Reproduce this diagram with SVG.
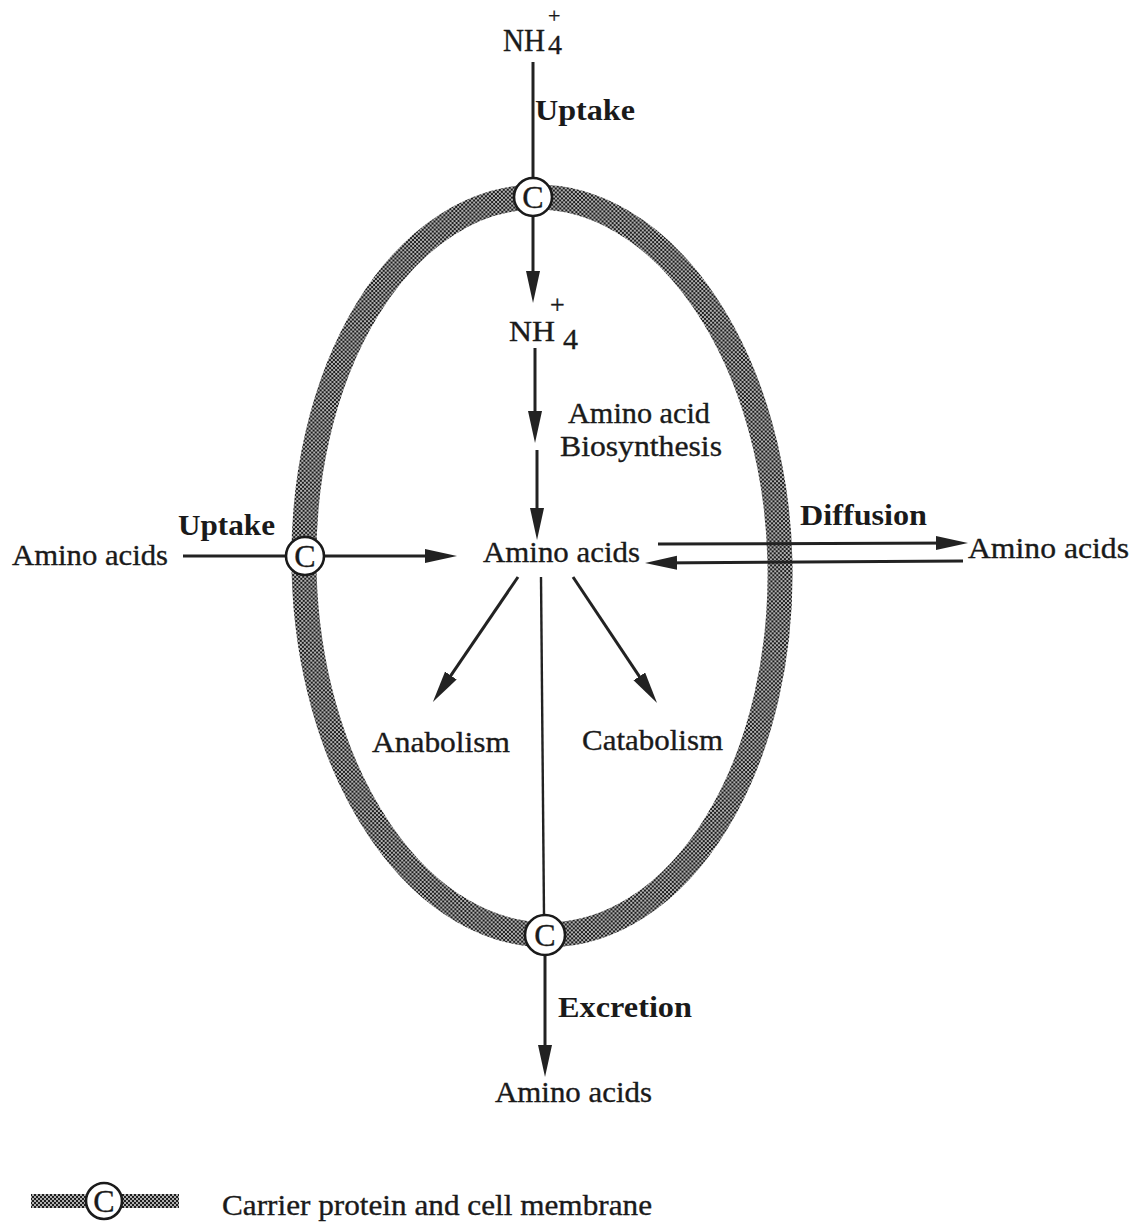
<svg xmlns="http://www.w3.org/2000/svg" width="1143" height="1226" viewBox="0 0 1143 1226">
<style>
text{font-family:"Liberation Serif","Times New Roman",serif;fill:#1a1a1a;font-size:30px;stroke:#1a1a1a;stroke-width:0.35}
.b{font-weight:bold;stroke-width:0}
.ln{stroke:#222;stroke-width:3;fill:none}
.thin{stroke:#222;stroke-width:2.4;fill:none}
.arr{marker-end:url(#ah)}
.cc{fill:#fff;stroke:#1a1a1a;stroke-width:2.6}
.ct{font-size:32px;text-anchor:middle}
</style>
<defs>
<pattern id="mesh" width="4" height="4" patternUnits="userSpaceOnUse">
<rect width="4" height="4" fill="#b0b0b0"/>
<rect width="2" height="2" fill="#1e1e1e"/>
<rect x="2" y="2" width="2" height="2" fill="#1e1e1e"/>
</pattern>
<marker id="ah" markerUnits="userSpaceOnUse" markerWidth="34" markerHeight="16" refX="22" refY="7" orient="auto">
<path d="M0,0 L32,7 L0,14 Z" fill="#222"/>
</marker>
</defs>
<rect width="1143" height="1226" fill="#fff"/>

<g id="membrane">
<ellipse cx="542" cy="566" rx="238" ry="369" transform="rotate(-1.4 542 566)" fill="none" stroke="url(#mesh)" stroke-width="25"/>
</g>

<g id="connectors">
<line class="ln" x1="533" y1="62" x2="533" y2="178"/>
<line class="ln arr" x1="533" y1="217" x2="533" y2="293"/>
<line class="ln arr" x1="535" y1="348" x2="535" y2="433"/>
<line class="ln arr" x1="537" y1="450" x2="537" y2="530"/>
<line class="ln" x1="183" y1="556" x2="286" y2="556"/>
<line class="ln arr" x1="324" y1="556" x2="447" y2="556"/>
<line class="ln arr" x1="658" y1="544" x2="958" y2="543"/>
<line class="ln arr" x1="963" y1="561" x2="655" y2="563"/>
<line class="ln arr" x1="518" y1="577" x2="438.5" y2="693.7"/>
<line class="ln arr" x1="573" y1="577" x2="651.5" y2="694.7"/>
<line class="thin" x1="541" y1="577" x2="544" y2="915"/>
<line class="ln arr" x1="545" y1="955" x2="545" y2="1067"/>
</g>

<g id="carrier-top"><circle class="cc" cx="533" cy="197" r="19"/><text class="ct" x="533" y="208">C</text></g>
<g id="carrier-left"><circle class="cc" cx="305" cy="556" r="19"/><text class="ct" x="305" y="567">C</text></g>
<g id="carrier-bottom"><circle class="cc" cx="545" cy="935" r="20"/><text class="ct" x="545" y="946">C</text></g>

<g id="nh4-outside">
<text><tspan x="503" y="51" font-size="32" textLength="42" lengthAdjust="spacingAndGlyphs">NH</tspan><tspan x="548" y="54" font-size="28">4</tspan><tspan x="548" y="23" font-size="22">+</tspan></text>
</g>
<g id="label-uptake-top"><text class="b" x="535" y="120" textLength="100" lengthAdjust="spacingAndGlyphs">Uptake</text></g>

<g id="nh4-inside">
<text><tspan x="509" y="341" textLength="46" lengthAdjust="spacingAndGlyphs">NH</tspan><tspan x="563" y="349">4</tspan><tspan x="550" y="313" font-size="26">+</tspan></text>
</g>
<g id="label-biosynthesis">
<text x="568" y="423" textLength="142" lengthAdjust="spacingAndGlyphs">Amino acid</text>
<text x="560" y="456" textLength="162" lengthAdjust="spacingAndGlyphs">Biosynthesis</text>
</g>

<g id="aa-center"><text x="483" y="562" textLength="157" lengthAdjust="spacingAndGlyphs">Amino acids</text></g>
<g id="aa-left"><text x="12" y="565" textLength="156" lengthAdjust="spacingAndGlyphs">Amino acids</text></g>
<g id="label-uptake-left"><text class="b" x="178" y="535" textLength="97" lengthAdjust="spacingAndGlyphs">Uptake</text></g>
<g id="label-diffusion"><text class="b" x="800" y="525" textLength="127" lengthAdjust="spacingAndGlyphs">Diffusion</text></g>
<g id="aa-right"><text x="968" y="558" textLength="161" lengthAdjust="spacingAndGlyphs">Amino acids</text></g>
<g id="anabolism"><text x="372" y="752" textLength="138" lengthAdjust="spacingAndGlyphs">Anabolism</text></g>
<g id="catabolism"><text x="582" y="750" textLength="141" lengthAdjust="spacingAndGlyphs">Catabolism</text></g>
<g id="label-excretion"><text class="b" x="558" y="1017" textLength="134" lengthAdjust="spacingAndGlyphs">Excretion</text></g>
<g id="aa-bottom"><text x="495" y="1102" textLength="157" lengthAdjust="spacingAndGlyphs">Amino acids</text></g>

<g id="legend">
<rect x="31" y="1194" width="148" height="14" fill="url(#mesh)"/>
<circle class="cc" cx="104" cy="1201" r="18"/>
<text class="ct" x="104" y="1212" font-size="30">C</text>
<text x="222" y="1215" textLength="430" lengthAdjust="spacingAndGlyphs">Carrier protein and cell membrane</text>
</g>
</svg>
